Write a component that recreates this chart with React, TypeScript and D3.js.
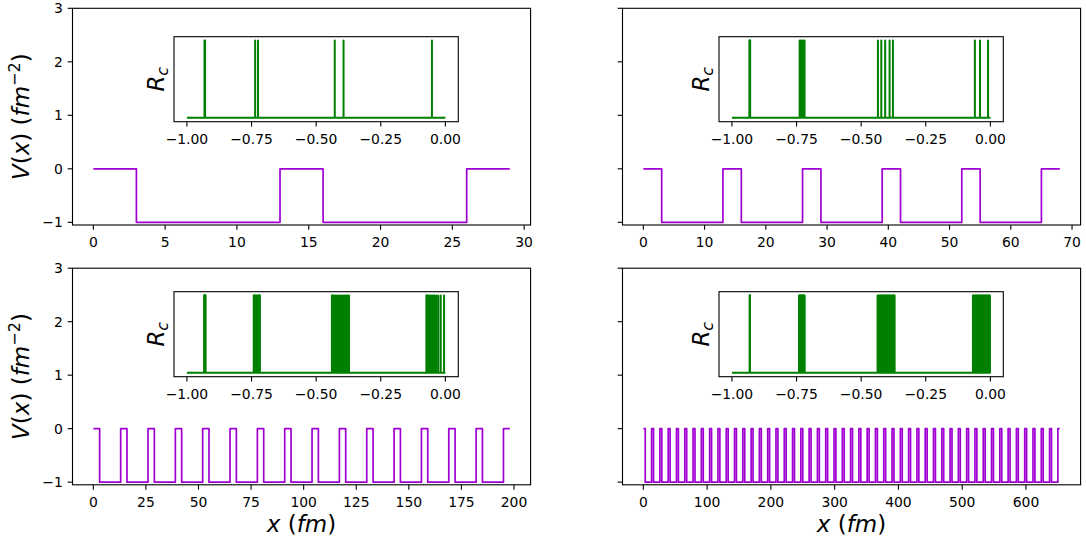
import React from 'react';
import * as d3 from 'd3';

// ---------------- data ----------------
// potential: wells of depth -1 (width 10 fm) separated by barriers at 0 (width 3 fm)
const wellWidth = 10;
const barrierLevel = 0;
const wellLevel = -1;
const chainLengths = [29, 68, 198, 653];
const wellStarts1 = [3, 16];
const wellStarts2 = [3, 16, 29, 42, 55];
const wellStarts3 = [3, 16, 29, 42, 55, 68, 81, 94, 107, 120, 133, 146, 159, 172, 185];
const wellStarts4 = [
  3, 16, 29, 42, 55, 68, 81, 94, 107, 120, 133, 146, 159, 172, 185, 198, 211, 224, 237, 250,
  263, 276, 289, 302, 315, 328, 341, 354, 367, 380, 393, 406, 419, 432, 445, 458, 471, 484, 497, 510,
  523, 536, 549, 562, 575, 588, 601, 614, 627, 640,
];

// R_c spikes (energies in the inset)
const rcBase = 1;
const rcPeak = 2.5;
const spikes1 = [-0.932, -0.930, -0.736, -0.725, -0.428, -0.394, -0.052];
const spikes2 = [
  -0.9325, -0.932, -0.931, -0.930, -0.9295,
  -0.738, -0.734, -0.728, -0.723, -0.719,
  -0.435, -0.422, -0.407, -0.390, -0.377,
  -0.060, -0.040, -0.009,
];
const spikes3 = [
  -0.9335, -0.9333, -0.933, -0.9326, -0.932, -0.9315, -0.931, -0.9305, -0.930, -0.9295, -0.929, -0.9285, -0.9282, -0.928, -0.9278,
  -0.7415, -0.741, -0.74, -0.7385, -0.7365, -0.734, -0.7315, -0.729, -0.7265, -0.724, -0.7218, -0.72, -0.7188, -0.718, -0.7176,
  -0.439, -0.4385, -0.437, -0.4345, -0.431, -0.4265, -0.421, -0.415, -0.4085, -0.402, -0.3955, -0.3895, -0.384, -0.379, -0.373,
  -0.0735, -0.0725, -0.0705, -0.068, -0.0645, -0.06, -0.055, -0.049, -0.0425, -0.0355, -0.0275, -0.018, -0.005,
];
const spikes4 = [
  -0.9316, -0.9314, -0.9312, -0.931, -0.9308, -0.9306, -0.9304, -0.9302,
  -0.7405, -0.7395, -0.738, -0.7365, -0.735, -0.7335, -0.732, -0.7305, -0.729, -0.7275, -0.726, -0.7245, -0.723, -0.7215, -0.72, -0.7185,
  -0.4365, -0.4345, -0.4325, -0.4305, -0.4285, -0.4265, -0.4245, -0.4225, -0.4205, -0.4185, -0.4165, -0.4145, -0.4125,
  -0.4105, -0.4085, -0.4065, -0.4045, -0.4025, -0.4005, -0.3985, -0.3965, -0.3945, -0.3925, -0.3905, -0.3885, -0.3865,
  -0.3845, -0.3825, -0.3805, -0.3785, -0.3765, -0.3745, -0.3725, -0.3705,
  -0.0675, -0.0655, -0.0635, -0.0615, -0.0595, -0.0575, -0.0555, -0.0535, -0.0515, -0.0495, -0.0475, -0.0455, -0.0435,
  -0.0415, -0.0395, -0.0375, -0.0355, -0.0335, -0.0315, -0.0295, -0.0275, -0.0255, -0.0235, -0.0215, -0.0195, -0.0175,
  -0.0155, -0.0135, -0.0115, -0.0095, -0.0075, -0.0055, -0.0035, -0.0015,
];

const xTicks1 = [0, 5, 10, 15, 20, 25, 30];
const xTicks2 = [0, 10, 20, 30, 40, 50, 60, 70];
const xTicks3 = [0, 25, 50, 75, 100, 125, 150, 175, 200];
const xTicks4 = [0, 100, 200, 300, 400, 500, 600];
const yTicks = [-1, 0, 1, 2, 3];
const insetTicks = [-1, -0.75, -0.5, -0.25, 0];
const insetTickLabels = ['−1.00', '−0.75', '−0.50', '−0.25', '0.00'];

// ---------------- layout ----------------
const FONT = 'DejaVu Sans, sans-serif';
const PURPLE = '#a000d2';
const GREEN = '#008000';
const TICK = 4.86;
const XLAB_OFF = 22.4;
const LABEL_SIZE = 23;

type Box = { x0: number; x1: number; y0: number; y1: number };
type Spec = {
  frame: Box;
  inset: Box;
  length: number;
  wells: number[];
  xTicks: number[];
  spikes: number[];
  yLabels: boolean;
  xLabel: boolean;
};

const specs: Spec[] = [
  {
    frame: { x0: 72.5, x1: 530.6, y0: 8.3, y1: 225 },
    inset: { x0: 174, x1: 458.3, y0: 36.7, y1: 121.7 },
    length: chainLengths[0], wells: wellStarts1, xTicks: xTicks1, spikes: spikes1, yLabels: true, xLabel: false,
  },
  {
    frame: { x0: 622.5, x1: 1080.6, y0: 8.3, y1: 225 },
    inset: { x0: 719, x1: 1003.3, y0: 36.7, y1: 121.7 },
    length: chainLengths[1], wells: wellStarts2, xTicks: xTicks2, spikes: spikes2, yLabels: false, xLabel: false,
  },
  {
    frame: { x0: 72.5, x1: 530.6, y0: 268.2, y1: 484.8 },
    inset: { x0: 174, x1: 458.3, y0: 291.7, y1: 376.7 },
    length: chainLengths[2], wells: wellStarts3, xTicks: xTicks3, spikes: spikes3, yLabels: true, xLabel: true,
  },
  {
    frame: { x0: 622.5, x1: 1080.6, y0: 268.2, y1: 484.8 },
    inset: { x0: 719, x1: 1003.3, y0: 291.7, y1: 376.7 },
    length: chainLengths[3], wells: wellStarts4, xTicks: xTicks4, spikes: spikes4, yLabels: false, xLabel: true,
  },
];

function fmtTick(v: number) {
  return v < 0 ? '−' + Math.abs(v) : String(v);
}

function Panel({ s }: { s: Spec }) {
  const { frame, inset } = s;
  const margin = s.length * 0.05;
  const x = d3.scaleLinear().domain([-margin, s.length + margin]).range([frame.x0, frame.x1]);
  const y = d3.scaleLinear().domain([-1.05, 3]).range([frame.y1, frame.y0]);

  const pts: [number, number][] = [[0, barrierLevel]];
  s.wells.forEach((w) => {
    pts.push([w, barrierLevel], [w, wellLevel], [w + wellWidth, wellLevel], [w + wellWidth, barrierLevel]);
  });
  pts.push([s.length, barrierLevel]);
  const line = d3.line<[number, number]>().x((d) => x(d[0])).y((d) => y(d[1]));

  const ix = d3.scaleLinear().domain([-1.05, 0.05]).range([inset.x0, inset.x1]);
  const span = rcPeak - rcBase;
  const iy = d3.scaleLinear().domain([rcBase - 0.05 * span, rcPeak + 0.05 * span]).range([inset.y1, inset.y0]);
  const sp = [...s.spikes].sort((a, b) => a - b);
  const spts: [number, number][] = [[-1, rcBase]];
  sp.forEach((e) => spts.push([e, rcBase], [e, rcPeak], [e, rcBase]));
  spts.push([0, rcBase]);
  const sline = d3.line<[number, number]>().x((d) => ix(d[0])).y((d) => iy(d[1]));

  const cx = (frame.x0 + frame.x1) / 2;
  const cy = (frame.y0 + frame.y1) / 2;
  const icy = (inset.y0 + inset.y1) / 2;

  return (
    <g>
      {/* potential */}
      <path d={line(pts) || ''} fill="none" stroke={PURPLE} strokeWidth={1.7} strokeLinejoin="round" />
      {/* frame */}
      <rect x={frame.x0} y={frame.y0} width={frame.x1 - frame.x0} height={frame.y1 - frame.y0} fill="none" stroke="#000" strokeWidth={1.1} />
      {/* y ticks */}
      {yTicks.map((t) => (
        <g key={'y' + t}>
          <line x1={frame.x0 - TICK} x2={frame.x0} y1={y(t)} y2={y(t)} stroke="#000" strokeWidth={1.1} />
          {s.yLabels && (
            <text x={frame.x0 - 2 * TICK} y={y(t) + 5} textAnchor="end" fontSize={13.9} fontFamily={FONT}>
              {fmtTick(t)}
            </text>
          )}
        </g>
      ))}
      {/* x ticks */}
      {s.xTicks.map((t) => (
        <g key={'x' + t}>
          <line x1={x(t)} x2={x(t)} y1={frame.y1} y2={frame.y1 + TICK} stroke="#000" strokeWidth={1.1} />
          <text x={x(t)} y={frame.y1 + XLAB_OFF} textAnchor="middle" fontSize={13.9} fontFamily={FONT}>
            {fmtTick(t)}
          </text>
        </g>
      ))}
      {s.yLabels && (
        <text transform={`translate(28.5,${cy}) rotate(-90)`} textAnchor="middle" fontSize={LABEL_SIZE} fontFamily={FONT}>
          <tspan fontStyle="italic">V</tspan>
          <tspan>(</tspan>
          <tspan fontStyle="italic">x</tspan>
          <tspan>) (</tspan>
          <tspan fontStyle="italic">fm</tspan>
          <tspan fontSize={LABEL_SIZE * 0.7} dy={-9}>−2</tspan>
          <tspan dy={9}>)</tspan>
        </text>
      )}
      {s.xLabel && (
        <text x={cx} y={532} textAnchor="middle" fontSize={LABEL_SIZE} fontFamily={FONT}>
          <tspan fontStyle="italic">x</tspan>
          <tspan> (</tspan>
          <tspan fontStyle="italic">fm</tspan>
          <tspan>)</tspan>
        </text>
      )}

      {/* inset */}
      <rect x={inset.x0} y={inset.y0} width={inset.x1 - inset.x0} height={inset.y1 - inset.y0} fill="#fff" stroke="none" />
      <path d={sline(spts) || ''} fill="none" stroke={GREEN} strokeWidth={2} strokeLinejoin="round" />
      <rect x={inset.x0} y={inset.y0} width={inset.x1 - inset.x0} height={inset.y1 - inset.y0} fill="none" stroke="#000" strokeWidth={1.1} />
      {insetTicks.map((t, i) => (
        <g key={'i' + t}>
          <line x1={ix(t)} x2={ix(t)} y1={inset.y1} y2={inset.y1 + TICK} stroke="#000" strokeWidth={1.1} />
          <text x={ix(t)} y={inset.y1 + XLAB_OFF} textAnchor="middle" fontSize={13.9} fontFamily={FONT}>
            {insetTickLabels[i]}
          </text>
        </g>
      ))}
      <text transform={`translate(${inset.x0 - 10.5},${icy}) rotate(-90)`} textAnchor="middle" fontSize={LABEL_SIZE} fontFamily={FONT}>
        <tspan fontStyle="italic">R</tspan>
        <tspan fontStyle="italic" fontSize={LABEL_SIZE * 0.7} dy={4}>c</tspan>
      </text>
    </g>
  );
}

export default function App() {
  return (
    <svg width={1086} height={544} viewBox="0 0 1086 544" style={{ position: 'absolute', left: 0, top: 0, background: '#fff' }}>
      <rect width={1086} height={544} fill="#fff" />
      {specs.map((s, i) => (
        <Panel key={i} s={s} />
      ))}
    </svg>
  );
}
